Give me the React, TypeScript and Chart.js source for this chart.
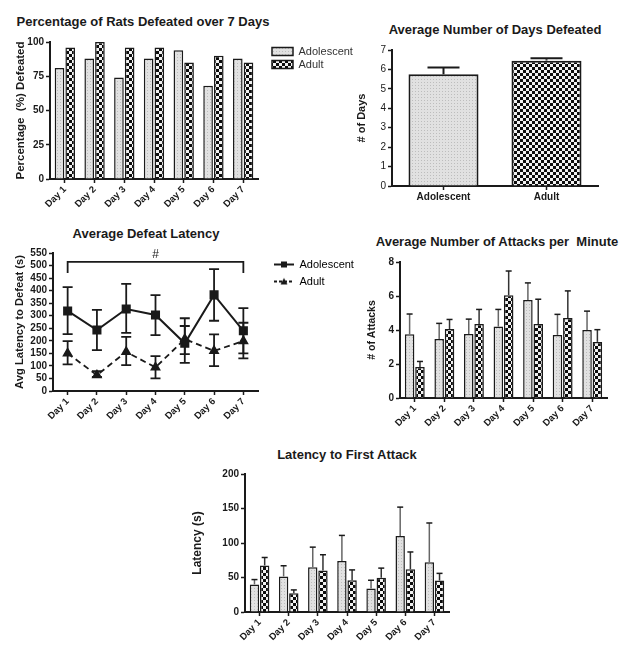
import React, { useEffect, useRef } from 'react';
import { Chart, registerables } from 'chart.js';

Chart.register(...registerables);

// ---------- data ----------
const DAYS = ['Day 1', 'Day 2', 'Day 3', 'Day 4', 'Day 5', 'Day 6', 'Day 7'];
const GROUPS = ['Adolescent', 'Adult'];

// Percentage of rats defeated
const PCT_ADOLESCENT = [81, 88, 74, 88, 94, 68, 88];
const PCT_ADULT = [96, 100, 96, 96, 85, 90, 85];
const PCT_TICKS = [0, 25, 50, 75, 100];

// Average number of days defeated
const DAYS_DEFEATED = [5.75, 6.45];
const DAYS_DEFEATED_TOP = [6.1, 6.57];
const DAYS_TICKS = [0, 1, 2, 3, 4, 5, 6, 7];

// Average defeat latency (mean, upper, lower)
const LAT_ADOLESCENT = [319, 243, 327, 303, 190, 383, 240];
const LAT_ADOLESCENT_HI = [414, 323, 427, 382, 290, 486, 330];
const LAT_ADOLESCENT_LO = [227, 163, 232, 223, 112, 280, 150];
const LAT_ADULT = [150, 63, 156, 94, 207, 160, 199];
const LAT_ADULT_HI = [199, 79, 216, 139, 259, 226, 272];
const LAT_ADULT_LO = [106, 56, 103, 50, 147, 99, 130];
const LAT_TICKS = [0, 50, 100, 150, 200, 250, 300, 350, 400, 450, 500, 550];
const BRACKET_LEVEL = 515;
const BRACKET_DROP = 470;
const BRACKET_LABEL = '#';

// Attacks per minute
const ATT_ADOLESCENT = [3.75, 3.47, 3.77, 4.2, 5.76, 3.71, 4.0];
const ATT_ADOLESCENT_HI = [4.94, 4.39, 4.64, 5.21, 6.77, 4.92, 5.11];
const ATT_ADULT = [1.83, 4.06, 4.35, 6.05, 4.35, 4.7, 3.3];
const ATT_ADULT_HI = [2.15, 4.62, 5.21, 7.47, 5.81, 6.3, 4.02];
const ATT_TICKS = [0, 2, 4, 6, 8];

// Latency to first attack
const FA_ADOLESCENT = [40, 51.5, 65, 74, 34, 110, 72];
const FA_ADOLESCENT_HI = [47, 67, 94, 111, 46, 152, 129];
const FA_ADULT = [67.5, 27, 60, 46, 49.5, 62, 45.6];
const FA_ADULT_HI = [79, 32, 83, 61, 63.6, 87, 56];
const FA_TICKS = [0, 50, 100, 150, 200];

// ---------- style ----------
const INK = '#1a1a1a';
const FONT = "'Liberation Sans', Arial, Helvetica, sans-serif";
Chart.defaults.font.family = FONT;
Chart.defaults.color = INK;

type Box = { left: number; top: number; width: number; height: number };
type Plot = { L: number; T: number; R: number; B: number };

function geometry(box: Box, plot: Plot, legendW = 0) {
  return {
    padding: { left: 0, top: plot.T - box.top, right: box.left + box.width - plot.R - legendW, bottom: 0 },
    yW: plot.L - box.left,
    xH: box.top + box.height - plot.B,
  };
}

function patAdolescent(ctx: CanvasRenderingContext2D) {
  const t = document.createElement('canvas');
  t.width = 3; t.height = 3;
  const c = t.getContext('2d')!;
  c.fillStyle = '#e1e1e1'; c.fillRect(0, 0, 3, 3);
  c.fillStyle = '#bdbdbd'; c.fillRect(0, 0, 1, 1);
  return ctx.createPattern(t, 'repeat');
}
function patAdult(ctx: CanvasRenderingContext2D) {
  const t = document.createElement('canvas');
  t.width = 6; t.height = 6;
  const c = t.getContext('2d')!;
  c.fillStyle = '#0d0d0d'; c.fillRect(0, 0, 6, 6);
  c.fillStyle = '#f2f2f2'; c.fillRect(0, 0, 3, 3); c.fillRect(3, 3, 3, 3);
  return ctx.createPattern(t, 'repeat');
}

function xCat(xH: number, rotation: number, fontSize = 9.5) {
  return {
    type: 'category',
    offset: true,
    afterFit: (s: any) => { s.height = xH; },
    grid: { display: true, drawOnChartArea: false, drawTicks: true, tickLength: 4, tickWidth: 1.5, tickColor: INK, color: INK, offset: false },
    border: { display: true, color: INK, width: 2 },
    ticks: { color: INK, autoSkip: false, minRotation: rotation, maxRotation: rotation, padding: 1, font: { size: fontSize, weight: 'bold', family: FONT } },
  };
}

function yLin(yW: number, ticks: number[], title: string, titleSize: number, titlePad: number, bold = true) {
  return {
    type: 'linear',
    min: ticks[0],
    max: ticks[ticks.length - 1],
    afterFit: (s: any) => { s.width = yW; },
    afterBuildTicks: (s: any) => { s.ticks = ticks.map((v) => ({ value: v })); },
    grid: { display: true, drawOnChartArea: false, drawTicks: true, tickLength: 4, tickWidth: 1.5, tickColor: INK, color: INK },
    border: { display: true, color: INK, width: 2 },
    ticks: { color: INK, autoSkip: false, padding: 2, font: { size: 10, weight: bold ? 'bold' : 'normal', family: FONT } },
    title: { display: true, text: title, color: INK, font: { size: titleSize, weight: 'bold', family: FONT }, padding: { top: titlePad, bottom: 0 } },
  };
}

const errorBars = {
  id: 'errorBars',
  afterDatasetsDraw(chart: any) {
    const ctx = chart.ctx;
    const yScale = chart.scales.y;
    chart.data.datasets.forEach((ds: any, di: number) => {
      if (!ds.errHigh) return;
      const meta = chart.getDatasetMeta(di);
      ctx.save();
      ctx.lineWidth = ds.errWidth || 1.5;
      meta.data.forEach((el: any, i: number) => {
        const x = el.x;
        const yh = yScale.getPixelForValue(ds.errHigh[i]);
        const yl = ds.errLow ? yScale.getPixelForValue(ds.errLow[i]) : el.y;
        const cap = ds.errCap || 4;
        const col = Array.isArray(ds.errColor) ? ds.errColor[i] : ds.errColor;
        ctx.strokeStyle = col || INK;
        ctx.beginPath();
        ctx.moveTo(x, yl); ctx.lineTo(x, yh);
        ctx.stroke();
        ctx.strokeStyle = INK;
        ctx.beginPath();
        ctx.moveTo(x - cap, yh); ctx.lineTo(x + cap, yh);
        if (ds.errLow) { ctx.moveTo(x - cap, yl); ctx.lineTo(x + cap, yl); }
        ctx.stroke();
      });
      ctx.restore();
    });
  },
};

// shift the legend box sideways and widen its clip so labels are not cut
function legendNudge(dx: number, dy: number, extra: number) {
  return {
    id: 'legendNudge',
    afterLayout(chart: any) {
      const l = chart.legend;
      if (l) {
        l.left += dx; l.right += dx + extra; l.width = l.right - l.left;
        l.top += dy; l.bottom += dy;
      }
    },
  };
}

const bracket = {
  id: 'bracket',
  afterDatasetsDraw(chart: any) {
    const { ctx } = chart;
    const x = chart.scales.x, y = chart.scales.y;
    const x1 = x.getPixelForValue(0), x2 = x.getPixelForValue(DAYS.length - 1);
    const yl = y.getPixelForValue(BRACKET_LEVEL), yd = y.getPixelForValue(BRACKET_DROP);
    ctx.save();
    ctx.strokeStyle = INK; ctx.lineWidth = 1.8;
    ctx.beginPath();
    ctx.moveTo(x1, yd); ctx.lineTo(x1, yl); ctx.lineTo(x2, yl); ctx.lineTo(x2, yd);
    ctx.stroke();
    ctx.fillStyle = INK; ctx.font = `12px ${FONT}`; ctx.textAlign = 'center'; ctx.textBaseline = 'bottom';
    ctx.fillText(BRACKET_LABEL, (x1 + x2) / 2, yl - 1);
    ctx.restore();
  },
};

function lineIcon(dashed: boolean) {
  const c = document.createElement('canvas');
  c.width = 20; c.height = 10;
  const g = c.getContext('2d')!;
  g.strokeStyle = INK; g.fillStyle = INK; g.lineWidth = 2;
  if (dashed) g.setLineDash([3, 2]);
  g.beginPath(); g.moveTo(0, 5); g.lineTo(20, 5); g.stroke();
  g.setLineDash([]);
  if (dashed) { g.beginPath(); g.moveTo(10, 1.5); g.lineTo(13.5, 8); g.lineTo(6.5, 8); g.closePath(); g.fill(); }
  else g.fillRect(7, 2, 6, 6);
  return c;
}

const BASE = { responsive: false, animation: false, devicePixelRatio: 1 };

// ---------- panels ----------
const B1: Box = { left: 0, top: 30, width: 370, height: 185 };
const P1: Plot = { L: 50, T: 42, R: 258, B: 179 };
const B2: Box = { left: 340, top: 40, width: 290, height: 170 };
const P2: Plot = { L: 392, T: 50, R: 598, B: 186 };
const B3: Box = { left: 0, top: 245, width: 380, height: 185 };
const P3: Plot = { L: 53, T: 253, R: 258, B: 391 };
const B4: Box = { left: 340, top: 250, width: 290, height: 185 };
const P4: Plot = { L: 400, T: 262, R: 607, B: 398 };
const B5: Box = { left: 170, top: 465, width: 300, height: 186 };
const P5: Plot = { L: 245, T: 474, R: 449, B: 612 };
const LEG_W = 80;

function cfgPct(ctx: CanvasRenderingContext2D) {
  const g = geometry(B1, P1, LEG_W);
  return {
    type: 'bar',
    data: {
      labels: DAYS,
      datasets: [
        { label: GROUPS[0], data: PCT_ADOLESCENT, backgroundColor: patAdolescent(ctx), borderColor: INK, borderWidth: 1.5, barPercentage: 0.9, categoryPercentage: 0.72 },
        { label: GROUPS[1], data: PCT_ADULT, backgroundColor: patAdult(ctx), borderColor: INK, borderWidth: 1.5, barPercentage: 0.9, categoryPercentage: 0.72 },
      ],
    },
    options: {
      ...BASE,
      layout: { padding: g.padding },
      plugins: {
        legend: { display: true, position: 'right', align: 'start', maxWidth: LEG_W, labels: { boxWidth: 21, boxHeight: 8, padding: 2, color: '#333', font: { size: 11, family: FONT } } },
        tooltip: { enabled: false },
      },
      scales: { x: xCat(g.xH, 45), y: yLin(g.yW, PCT_TICKS, 'Percentage  (%) Defeated', 11.5, 14) },
    },
    plugins: [legendNudge(12, 2, 30)],
  };
}

function cfgDays(ctx: CanvasRenderingContext2D) {
  const g = geometry(B2, P2);
  return {
    type: 'bar',
    data: {
      labels: GROUPS,
      datasets: [
        { label: 'Days', data: DAYS_DEFEATED, backgroundColor: [patAdolescent(ctx), patAdult(ctx)], borderColor: INK, borderWidth: 2, barPercentage: 1, categoryPercentage: 0.68, errHigh: DAYS_DEFEATED_TOP, errCap: 16, errWidth: 2, errColor: [INK, '#555'] },
      ],
    },
    options: {
      ...BASE,
      layout: { padding: g.padding },
      plugins: { legend: { display: false }, tooltip: { enabled: false } },
      scales: { x: xCat(g.xH, 0, 10), y: yLin(g.yW, DAYS_TICKS, '# of Days', 11, 15, false) },
    },
    plugins: [errorBars],
  };
}

function cfgLatency(_ctx: CanvasRenderingContext2D) {
  const g = geometry(B3, P3, LEG_W);
  const icons = [lineIcon(false), lineIcon(true)];
  return {
    type: 'line',
    data: {
      labels: DAYS,
      datasets: [
        { label: GROUPS[0], data: LAT_ADOLESCENT, borderColor: INK, backgroundColor: INK, borderWidth: 2, fill: false, tension: 0, pointStyle: 'rect', pointRadius: 5, pointBackgroundColor: INK, pointBorderColor: INK, errHigh: LAT_ADOLESCENT_HI, errLow: LAT_ADOLESCENT_LO, errCap: 5, errWidth: 1.8, errColor: INK },
        { label: GROUPS[1], data: LAT_ADULT, borderColor: INK, backgroundColor: INK, borderWidth: 1.8, borderDash: [6, 4], fill: false, tension: 0, pointStyle: 'triangle', pointRadius: 4.5, pointBackgroundColor: INK, pointBorderColor: INK, errHigh: LAT_ADULT_HI, errLow: LAT_ADULT_LO, errCap: 5, errWidth: 1.8, errColor: INK },
      ],
    },
    options: {
      ...BASE,
      layout: { padding: g.padding },
      plugins: {
        legend: {
          display: true, position: 'right', align: 'start', maxWidth: LEG_W,
          labels: {
            usePointStyle: true, pointStyleWidth: 20, boxHeight: 10, padding: 6, color: '#333', font: { size: 11, family: FONT },
            generateLabels: (chart: any) => chart.data.datasets.map((ds: any, i: number) => ({
              text: ds.label, pointStyle: icons[i], fillStyle: INK, strokeStyle: INK, lineWidth: 0, hidden: false, datasetIndex: i,
            })),
          },
        },
        tooltip: { enabled: false },
      },
      scales: { x: xCat(g.xH, 45), y: yLin(g.yW, LAT_TICKS, 'Avg Latency to Defeat (s)', 11.2, 13) },
    },
    plugins: [errorBars, bracket, legendNudge(10, 0, 30)],
  };
}

function pairedBars(ctx: CanvasRenderingContext2D, a: number[], aHi: number[], b: number[], bHi: number[]) {
  return [
    { label: GROUPS[0], data: a, backgroundColor: patAdolescent(ctx), borderColor: INK, borderWidth: 1.5, barPercentage: 0.92, categoryPercentage: 0.7, errHigh: aHi, errCap: 3, errWidth: 1.5, errColor: '#666' },
    { label: GROUPS[1], data: b, backgroundColor: patAdult(ctx), borderColor: INK, borderWidth: 1.5, barPercentage: 0.92, categoryPercentage: 0.7, errHigh: bHi, errCap: 3, errWidth: 1.5, errColor: '#333' },
  ];
}

function cfgAttacks(ctx: CanvasRenderingContext2D) {
  const g = geometry(B4, P4);
  return {
    type: 'bar',
    data: { labels: DAYS, datasets: pairedBars(ctx, ATT_ADOLESCENT, ATT_ADOLESCENT_HI, ATT_ADULT, ATT_ADULT_HI) },
    options: {
      ...BASE,
      layout: { padding: g.padding },
      plugins: { legend: { display: false }, tooltip: { enabled: false } },
      scales: { x: xCat(g.xH, 45), y: yLin(g.yW, ATT_TICKS, '# of Attacks', 10.5, 26) },
    },
    plugins: [errorBars],
  };
}

function cfgFirst(ctx: CanvasRenderingContext2D) {
  const g = geometry(B5, P5);
  return {
    type: 'bar',
    data: { labels: DAYS, datasets: pairedBars(ctx, FA_ADOLESCENT, FA_ADOLESCENT_HI, FA_ADULT, FA_ADULT_HI) },
    options: {
      ...BASE,
      layout: { padding: g.padding },
      plugins: { legend: { display: false }, tooltip: { enabled: false } },
      scales: { x: xCat(g.xH, 45), y: yLin(g.yW, FA_TICKS, 'Latency (s)', 12, 20) },
    },
    plugins: [errorBars],
  };
}

function ChartCanvas({ box, make }: { box: Box; make: (ctx: CanvasRenderingContext2D) => any }) {
  const ref = useRef<HTMLCanvasElement>(null);
  useEffect(() => {
    const cv = ref.current!;
    const ctx = cv.getContext('2d')!;
    const chart = new Chart(ctx, make(ctx));
    return () => chart.destroy();
  }, []);
  return (
    <canvas
      ref={ref}
      width={box.width}
      height={box.height}
      style={{ position: 'absolute', left: box.left, top: box.top, width: box.width, height: box.height }}
    />
  );
}

function Title({ text, cx, cy }: { text: string; cx: number; cy: number }) {
  return (
    <div
      style={{
        position: 'absolute', left: cx - 200, width: 400, top: cy - 9, textAlign: 'center',
        font: `bold 13px ${FONT}`, lineHeight: '18px', color: INK, whiteSpace: 'pre',
      }}
    >
      {text}
    </div>
  );
}

export default function App() {
  return (
    <div style={{ position: 'fixed', left: 0, top: 0, width: 630, height: 651, background: '#fff', overflow: 'hidden' }}>
      <Title text="Percentage of Rats Defeated over 7 Days" cx={143} cy={22} />
      <Title text="Average Number of Days Defeated" cx={495} cy={30} />
      <Title text="Average Defeat Latency" cx={146} cy={234} />
      <Title text="Average Number of Attacks per  Minute" cx={497} cy={242} />
      <Title text="Latency to First Attack" cx={347} cy={455} />
      <ChartCanvas box={B1} make={cfgPct} />
      <ChartCanvas box={B2} make={cfgDays} />
      <ChartCanvas box={B3} make={cfgLatency} />
      <ChartCanvas box={B4} make={cfgAttacks} />
      <ChartCanvas box={B5} make={cfgFirst} />
    </div>
  );
}
